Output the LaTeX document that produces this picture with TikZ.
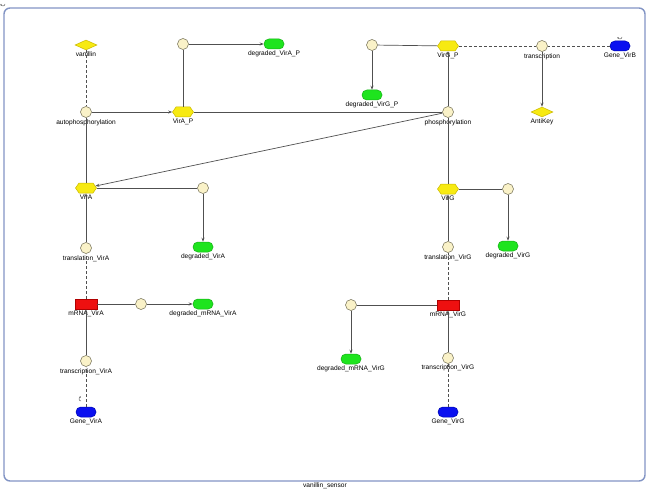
\documentclass[tikz,border=0pt]{standalone}
\usepackage{fontspec}
\setmainfont{Liberation Sans}
\usetikzlibrary{shapes.geometric,shapes.symbols,arrows.meta}
\definecolor{edgecol}{HTML}{505050}
\definecolor{framecol}{HTML}{8294C4}
\definecolor{procfill}{HTML}{FAF2C8}
\definecolor{procline}{HTML}{6E6A50}
\definecolor{protfill}{HTML}{F7EA12}
\definecolor{protline}{HTML}{C9B700}
\definecolor{degfill}{HTML}{1EE41E}
\definecolor{degline}{HTML}{18B018}
\definecolor{genefill}{HTML}{0A10F0}
\definecolor{geneline}{HTML}{0008B0}
\definecolor{mrnafill}{HTML}{EE1010}
\definecolor{mrnaline}{HTML}{B00000}
\begin{document}
\begin{tikzpicture}[x=1pt,y=-1pt,
  font=\fontsize{6.6}{7.5}\selectfont,
  label distance=1.2pt,
  every label/.style={inner sep=0.5pt, text=black},
  proc/.style={circle, draw=procline, fill=procfill, line width=0.5pt, minimum size=11pt, inner sep=0pt},
  prot/.style={signal, signal to=east and west, signal pointer angle=110, draw=protline, fill=protfill, line width=0.5pt, minimum width=21pt, minimum height=10pt, inner sep=0pt},
  smallmol/.style={diamond, draw=protline, fill=protfill, line width=0.5pt, minimum width=22pt, minimum height=10pt, inner sep=0pt},
  degr/.style={rectangle, rounded corners=4.8pt, draw=degline, fill=degfill, line width=0.5pt, minimum width=20pt, minimum height=10pt, inner sep=0pt},
  gene/.style={rectangle, rounded corners=4.8pt, draw=geneline, fill=genefill, line width=0.5pt, minimum width=20pt, minimum height=10pt, inner sep=0pt},
  mrna/.style={rectangle, draw=mrnaline, fill=mrnafill, line width=0.5pt, minimum width=22pt, minimum height=10pt, inner sep=0pt},
  conn/.style={draw=edgecol, line width=0.7pt},
  prod/.style={conn, -{Stealth[length=4pt,width=3pt]}},
  modif/.style={conn, dash pattern=on 3pt off 2pt},
  glyph/.style={draw=edgecol, line width=0.45pt, -{Stealth[length=1.3pt,width=1.5pt]}},
  frame/.style={draw=framecol, line width=1.4pt, rounded corners=6pt}
]
\useasboundingbox (0,0) rectangle (650,492);

% compartment
\draw[frame] (4,8) rectangle (645,481);
\node (comp) at (325,486) {vanillin\_sensor};
\draw[glyph] (5,4) arc[start angle=0,end angle=180,radius=2];

% species
\node[smallmol, label=below:vanillin] (vanillin) at (86,45) {};
\node[prot, label=below:VirA\_P] (VirAP) at (183,112) {};
\node[degr, label=below:degraded\_VirA\_P] (degVirAP) at (274,44) {};
\node[prot, label=below:VirG\_P] (VirGP) at (448,46) {};
\node[degr, label=below:degraded\_VirG\_P] (degVirGP) at (372,95) {};
\node[gene, label=below:Gene\_VirB] (GeneVirB) at (620,46) {};
\node[smallmol, label=below:AntiKey] (AntiKey) at (542,112) {};
\node[prot, label=below:VirA] (VirA) at (86,188) {};
\node[degr, label=below:degraded\_VirA] (degVirA) at (203,247) {};
\node[mrna, label=below:mRNA\_VirA] (mRNAVirA) at (86,304) {};
\node[degr, label=below:degraded\_mRNA\_VirA] (degmRNAVirA) at (203,304) {};
\node[gene, label=below:Gene\_VirA] (GeneVirA) at (86,412) {};
\node[prot, label=below:VirG] (VirG) at (448,189) {};
\node[degr, label=below:degraded\_VirG] (degVirG) at (508,246) {};
\node[mrna, label=below:mRNA\_VirG] (mRNAVirG) at (448,305) {};
\node[degr, label=below:degraded\_mRNA\_VirG] (degmRNAVirG) at (351,359) {};
\node[gene, label=below:Gene\_VirG] (GeneVirG) at (448,412) {};

% reactions
\node[proc, label=below:autophosphorylation] (autophos) at (86,112) {};
\node[proc] (rdegVirAP) at (183,44) {};
\node[proc] (rdegVirGP) at (372,45) {};
\node[proc, label=below:transcription] (transcr) at (542,46) {};
\node[proc, label=below:phosphorylation] (phos) at (448,112) {};
\node[proc] (rdegVirA) at (203,188) {};
\node[proc, label=below:translation\_VirA] (translA) at (86,248) {};
\node[proc] (rdegmRNAA) at (141,304) {};
\node[proc, label=below:transcription\_VirA] (transcrA) at (86,361) {};
\node[proc] (rdegVirG) at (508,189) {};
\node[proc, label=below:translation\_VirG] (translG) at (448,247) {};
\node[proc] (rdegmRNAG) at (351,305) {};
\node[proc, label={[label distance=0.4pt]below:transcription\_VirG}] (transcrG) at (448,358) {};

% clone markers on genes
\draw[glyph] ([shift={(2,-9)}]GeneVirB.center) arc[start angle=0,end angle=180,radius=2];
\draw[glyph] ([shift={(-5,-11)}]GeneVirA.center) arc[start angle=90,end angle=270,radius=2];

% autophosphorylation
\draw[modif] (vanillin) -- (autophos);
\draw[conn] (VirA) -- (autophos);
\draw[prod] (autophos) -- (VirAP);
% VirA_P degradation
\draw[conn] (VirAP) -- (rdegVirAP);
\draw[prod] (rdegVirAP) -- (degVirAP);
% phosphorylation
\draw[conn] (VirAP) -- (phos);
\draw[conn] (VirG) -- (phos);
\draw[prod] (phos) -- (VirGP);
\draw[prod] (phos) -- (VirA);
% VirG_P degradation
\draw[conn] (VirGP) -- (rdegVirGP);
\draw[prod] (rdegVirGP) -- (degVirGP);
% transcription of AntiKey
\draw[modif] (VirGP) -- (transcr);
\draw[modif] (GeneVirB) -- (transcr);
\draw[prod] (transcr) -- (AntiKey);
% VirA branch
\draw[conn] (VirA) -- (rdegVirA);
\draw[prod] (rdegVirA) -- (degVirA);
\draw[prod] (translA) -- (VirA);
\draw[modif] (mRNAVirA) -- (translA);
\draw[conn] (mRNAVirA) -- (rdegmRNAA);
\draw[prod] (rdegmRNAA) -- (degmRNAVirA);
\draw[prod] (transcrA) -- (mRNAVirA);
\draw[modif] (GeneVirA) -- (transcrA);
% VirG branch
\draw[conn] (VirG) -- (rdegVirG);
\draw[prod] (rdegVirG) -- (degVirG);
\draw[prod] (translG) -- (VirG);
\draw[modif] (mRNAVirG) -- (translG);
\draw[conn] (mRNAVirG) -- (rdegmRNAG);
\draw[prod] (rdegmRNAG) -- (degmRNAVirG);
\draw[prod] (transcrG) -- (mRNAVirG);
\draw[modif] (GeneVirG) -- (transcrG);
\end{tikzpicture}
\end{document}
